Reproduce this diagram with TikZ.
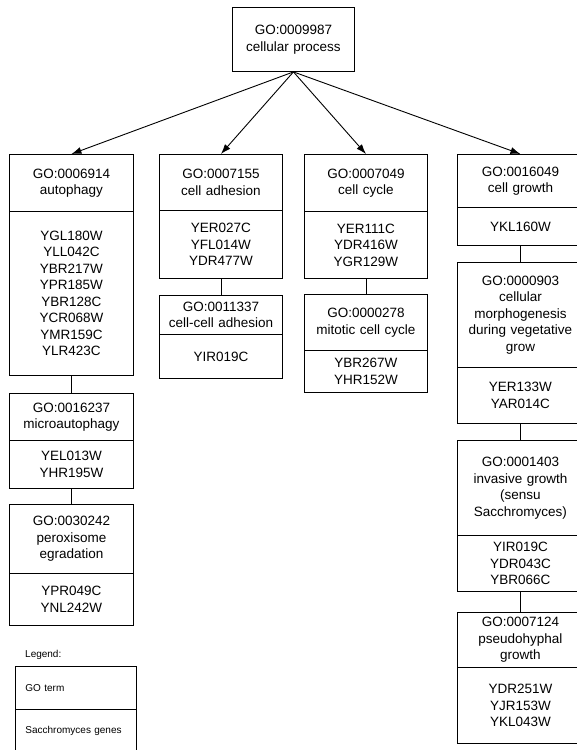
\documentclass[tikz,border=0pt]{standalone}
\usepackage{fontspec}
\setmainfont{Liberation Sans}
\usetikzlibrary{arrows.meta}
\begin{document}
\begin{tikzpicture}[x=1pt,y=-1pt,
  box/.style={draw=black, line width=0.9pt, anchor=north west, inner sep=0pt,
    align=center, font=\fontsize{13.5}{16.5}\selectfont},
  termbox/.style={box, minimum width=#1, text width=#1},
  link/.style={draw=black, line width=0.9pt},
  isa/.style={link, -{Latex[length=10pt,width=7pt]}},
  legendbox/.style={draw=black, line width=0.9pt, anchor=north west,
    minimum width=121pt, minimum height=43pt, inner xsep=10pt, inner ysep=0pt,
    text width=101pt, align=left, font=\fontsize{10}{12}\selectfont},
  legendtext/.style={anchor=west, inner sep=0pt, font=\fontsize{10}{12}\selectfont}]
\useasboundingbox (0,0) rectangle (577,750);
\clip (0,0) rectangle (577,750);

% root term
\node[termbox=122pt, minimum height=64pt] (root) at (232,7) {GO:0009987\\cellular process};

% autophagy branch
\node[termbox=124pt, minimum height=57pt]  (t1)  at (9,154) {GO:0006914\\autophagy};
\node[termbox=124pt, minimum height=164pt] (g1)  at (9,211) {YGL180W\\YLL042C\\YBR217W\\YPR185W\\YBR128C\\YCR068W\\YMR159C\\YLR423C};
\node[termbox=124pt, minimum height=47pt]  (t1b) at (9,393) {GO:0016237\\microautophagy};
\node[termbox=124pt, minimum height=48pt]  (g1b) at (9,440) {YEL013W\\YHR195W};
\node[termbox=124pt, minimum height=69pt]  (t1c) at (9,504) {GO:0030242\\peroxisome\\egradation};
\node[termbox=124pt, minimum height=52pt]  (g1c) at (9,573) {YPR049C\\YNL242W};

% cell adhesion branch
\node[termbox=123pt, minimum height=56pt] (t2)  at (159,154) {GO:0007155\\cell adhesion};
\node[termbox=123pt, minimum height=68pt] (g2)  at (159,210) {YER027C\\YFL014W\\YDR477W};
\node[termbox=123pt, minimum height=39pt] (t2b) at (159,295) {GO:0011337\\cell-cell adhesion};
\node[termbox=123pt, minimum height=44pt] (g2b) at (159,334) {YIR019C};

% cell cycle branch
\node[termbox=123pt, minimum height=57pt] (t3)  at (304,154) {GO:0007049\\cell cycle};
\node[termbox=123pt, minimum height=67pt] (g3)  at (304,211) {YER111C\\YDR416W\\YGR129W};
\node[termbox=123pt, minimum height=56pt] (t3b) at (304,294) {GO:0000278\\mitotic cell cycle};
\node[termbox=123pt, minimum height=42pt] (g3b) at (304,350) {YBR267W\\YHR152W};

% cell growth branch (runs past the right edge of the page)
\node[termbox=126pt, minimum height=53pt]  (t4)  at (457,154) {GO:0016049\\cell growth};
\node[termbox=126pt, minimum height=38pt]  (g4)  at (457,207) {YKL160W};
\node[termbox=126pt, minimum height=105pt] (t4b) at (457,262) {GO:0000903\\cellular\\morphogenesis\\during vegetative\\grow};
\node[termbox=126pt, minimum height=56pt]  (g4b) at (457,367) {YER133W\\YAR014C};
\node[termbox=126pt, minimum height=95pt]  (t4c) at (457,440) {GO:0001403\\invasive growth\\(sensu\\Sacchromyces)};
\node[termbox=126pt, minimum height=56pt]  (g4c) at (457,535) {YIR019C\\YDR043C\\YBR066C};
\node[termbox=126pt, minimum height=55pt]  (t4d) at (457,612) {GO:0007124\\pseudohyphal\\growth};
\node[termbox=126pt, minimum height=76pt]  (g4d) at (457,667) {YDR251W\\YJR153W\\YKL043W};

% is-a arrows from the root
\draw[isa] (root.south) -- (t1.north);
\draw[isa] (root.south) -- (t2.north);
\draw[isa] (root.south) -- (t3.north);
\draw[isa] (root.south) -- (t4.north);

% child links
\draw[link] (g1.south)  -- (t1b.north);
\draw[link] (g1b.south) -- (t1c.north);
\draw[link] (g2.south)  -- (t2b.north);
\draw[link] (g3.south)  -- (t3b.north);
\draw[link] (g4.south)  -- (t4b.north);
\draw[link] (g4b.south) -- (t4c.north);
\draw[link] (g4c.south) -- (t4d.north);

% legend
\node[legendtext] (legendlabel) at (25,655) {Legend:};
\node[legendbox] (legterm) at (15,666) {GO term};
\node[legendbox] (leggenes) at (15,709) {Sacchromyces genes};
\end{tikzpicture}
\end{document}
